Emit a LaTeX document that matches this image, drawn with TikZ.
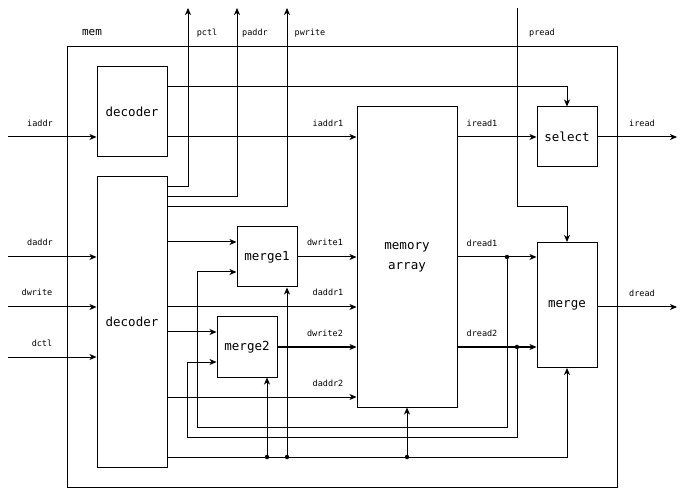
\documentclass[tikz,border=0pt]{standalone}
\usepackage{fontspec}
\usepackage{tikz}
\usetikzlibrary{arrows.meta}
\usetikzlibrary{calc}
\newfontfamily\sigfont{DejaVu Sans Mono}
\tikzset{
  blk/.style={draw, line width=1pt, inner sep=0, font=\sigfont\fontsize{12.5}{20}\selectfont},
  lbl/.style={inner sep=0, font=\sigfont\fontsize{8.5}{10}\selectfont},
  sig/.style={line width=1pt, -{Stealth[length=7pt,width=6pt,inset=2pt]}},
  wire/.style={line width=1pt},
  dot/.style={circle, fill, inner sep=0, minimum size=4.5pt}
}

\begin{document}
\begin{tikzpicture}[x=1pt, y=-1pt]
\useasboundingbox (0,0) rectangle (686,489);
\node[blk, minimum width=550pt, minimum height=440pt] (mem) at (342,267) {};
\node[lbl, font=\sigfont\fontsize{11}{12}\selectfont] (memlbl) at (92,33) {mem};
\node[blk, minimum width=70pt, minimum height=90pt] (dec1) at (132,112) {decoder};
\node[blk, minimum width=70pt, minimum height=290pt] (dec2) at (132,322) {decoder};
\node[blk, minimum width=100pt, minimum height=300pt, align=center] (marr) at (407,257) {memory\\array};
\node[blk, minimum width=60pt, minimum height=60pt] (sel) at (567,137) {select};
\node[blk, minimum width=60pt, minimum height=125pt] (mrg) at (567,305) {merge};
\node[blk, minimum width=60pt, minimum height=60pt] (mrg1) at (267,257) {merge1};
\node[blk, minimum width=60pt, minimum height=60pt] (mrg2) at (247,347) {merge2};

\coordinate (iaddr) at (8,137);
\coordinate (daddr) at (8,257);
\coordinate (dwrite) at (8,307);
\coordinate (dctl) at (8,357);
\coordinate (iread) at (677,137);
\coordinate (dread) at (677,307);
\coordinate (pctl) at (188,8);
\coordinate (paddr) at (237,8);
\coordinate (pwrite) at (287,8);
\coordinate (pread) at (517,8);
\coordinate (j1) at (507,257);
\coordinate (j2) at (517,347);
\coordinate (c1) at (267,457);
\coordinate (c2) at (287,457);
\coordinate (c3) at (407,457);

\draw[sig] (iaddr) -- (iaddr -| dec1.west);
\draw[sig] (daddr) -- (daddr -| dec2.west);
\draw[sig] (dwrite) -- (dwrite -| dec2.west);
\draw[sig] (dctl) -- (dctl -| dec2.west);
\node[lbl] (iaddrl) at (40,123) {iaddr};
\node[lbl] (daddrl) at (40,242) {daddr};
\node[lbl] (dwritel) at (37,292) {dwrite};
\node[lbl] (dctll) at (42,343) {dctl};

\draw[sig] (dec1.east |- 0,87) -| (sel.north);
\draw[sig] (dec1.east |- iaddr) -- (iaddr -| marr.west);
\draw[sig] (marr.east |- iaddr) -- (sel.west);
\draw[sig] (sel.east) -- (iread);
\node[lbl] (iaddr1l) at (328,123) {iaddr1};
\node[lbl] (iread1l) at (482,123) {iread1};
\node[lbl] (ireadl) at (642,123) {iread};

\draw[sig] (dec2.east |- 0,187) -| (pctl);
\draw[sig] (dec2.east |- 0,197) -| (paddr);
\draw[sig] (dec2.east |- 0,207) -| (pwrite);
\draw[sig] (pread) -- (pread |- 0,207) -| (mrg.north);
\node[lbl] (pctll) at (207,33) {pctl};
\node[lbl] (paddrl) at (255,33) {paddr};
\node[lbl] (pwritel) at (310,33) {pwrite};
\node[lbl] (preadl) at (542,33) {pread};

\draw[sig] (dec2.east |- 0,242) -- (mrg1.west |- 0,242);
\draw[sig] (dec2.east |- 0,332) -- (mrg2.west |- 0,332);
\draw[sig] (dec2.east |- 0,307) -- (marr.west |- 0,307);
\draw[sig] (dec2.east |- 0,397) -- (marr.west |- 0,397);
\draw[sig] (mrg1.east) -- (mrg1.east -| marr.west);
\draw[sig] (mrg2.east) -- (mrg2.east -| marr.west);
\node[lbl] (dwrite1l) at (325,242) {dwrite1};
\node[lbl] (daddr1l) at (328,292) {daddr1};
\node[lbl] (dwrite2l) at (325,333) {dwrite2};
\node[lbl] (daddr2l) at (328,383) {daddr2};

\draw[sig] (marr.east |- j1) -- (mrg.west |- j1);
\draw[sig] (marr.east |- j2) -- (mrg.west |- j2);
\draw[sig] (mrg.east |- dread) -- (dread);
\node[lbl] (dread1l) at (482,243) {dread1};
\node[lbl] (dread2l) at (482,333) {dread2};
\node[lbl] (dreadl) at (642,293) {dread};

\draw[sig] (j1) -- (j1 |- 0,427) -| (197,272) -- (mrg1.west |- 0,272);
\draw[sig] (j2) -- (j2 |- 0,437) -| (187,362) -- (mrg2.west |- 0,362);
\draw[sig] (dec2.east |- c1) -| (mrg.south);
\draw[sig] (c1) -- (c1 |- mrg2.south);
\draw[sig] (c2) -- (c2 |- mrg1.south);
\draw[sig] (c3) -- (marr.south);
\node[dot] at (j1) {};
\node[dot] at (j2) {};
\node[dot] at (c1) {};
\node[dot] at (c2) {};
\node[dot] at (c3) {};
\end{tikzpicture}
\end{document}
